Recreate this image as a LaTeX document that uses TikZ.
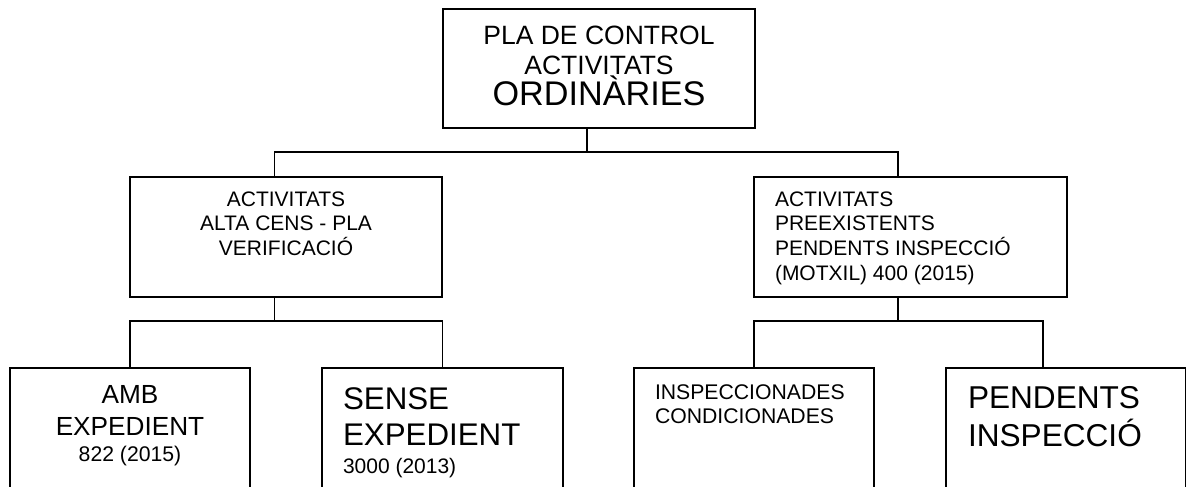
\documentclass[tikz,border=0pt]{standalone}
\usepackage{fontspec}
\setmainfont{Liberation Sans}
\usetikzlibrary{calc}

\newcommand{\boxtext}[3]{\parbox[t][#2][t]{#1}{\lineskiplimit=-100pt\relax #3}}

\begin{document}
\begin{tikzpicture}[x=1pt, y=-1pt,
      box/.style={draw, rectangle, anchor=north west, inner sep=0pt, outer sep=0pt, line width=1.8pt},
      link/.style={-, line width=1.8pt}]

      \useasboundingbox (0,0) rectangle (1186,487);
      \clip (0,0) rectangle (1186,487);

      % Nivell superior
      \node[box] (plan) at (443,9) {\boxtext{312pt}{119pt}{\centering\vspace*{6pt}\mbox{}\par
        \fontsize{26.5}{30}\selectfont PLA DE CONTROL\par ACTIVITATS\par
        \fontsize{34.2}{31}\selectfont ORDINÀRIES\par}};

      % Nivell mitja
      \node[box] (cens) at (130,177) {\boxtext{312pt}{120pt}{\centering\vspace*{4.2pt}\mbox{}\par
        \fontsize{21}{24.8}\selectfont ACTIVITATS\par ALTA CENS - PLA\par VERIFICACIÓ\par}};
      \node[box] (motxil) at (754,177) {\boxtext{313pt}{120pt}{\raggedright\leftskip=21pt\vspace*{4.3pt}\mbox{}\par
        \fontsize{21}{24.7}\selectfont ACTIVITATS\par PREEXISTENTS\par PENDENTS INSPECCIÓ\par (MOTXIL) 400 (2015)\par}};

      % Nivell inferior
      \node[box] (amb) at (10,368) {\boxtext{240pt}{130pt}{\centering\vspace*{3.3pt}\mbox{}\par
        \fontsize{26.2}{32}\selectfont AMB\par EXPEDIENT\par
        \fontsize{21.2}{25.7}\selectfont 822 (2015)\par}};
      \node[box] (sense) at (322,368) {\boxtext{241pt}{130pt}{\raggedright\leftskip=21pt\vspace*{4.9pt}\mbox{}\par
        \fontsize{31.3}{36.4}\selectfont SENSE\par EXPEDIENT\par
        \fontsize{21}{27.6}\selectfont 3000 (2013)\par}};
      \node[box] (insp) at (634,368) {\boxtext{240pt}{130pt}{\raggedright\leftskip=21pt\vspace*{6.7pt}\mbox{}\par
        \fontsize{21.2}{24.3}\selectfont INSPECCIONADES\par CONDICIONADES\par}};
      \node[box] (pend) at (946,368) {\boxtext{240pt}{130pt}{\raggedright\leftskip=22pt\vspace*{2.6pt}\mbox{}\par
        \fontsize{31.6}{37.7}\selectfont PENDENTS\par INSPECCIÓ\par}};

      % Connexions
      \coordinate (busTop) at (586.7,152.3);
      \coordinate (busL) at (274.5,152.3);
      \coordinate (busR) at (898,152.3);
      \draw[link] (plan.south -| busTop) -- (busTop);
      \draw[link] (cens.north -| busL) -- (busL) -- (busR) -- (motxil.north -| busR);

      \coordinate (forkL) at (274.5,321);
      \draw[link] (cens.south -| forkL) -- (forkL);
      \draw[link] (amb.north) |- (forkL) -| (sense.north);

      \coordinate (forkR) at (898,321);
      \coordinate (forkP) at (1042.7,321);
      \draw[link] (motxil.south -| forkR) -- (forkR);
      \draw[link] (insp.north) |- (forkR) -- (forkP) -- (pend.north -| forkP);
    \end{tikzpicture}
\end{document}
